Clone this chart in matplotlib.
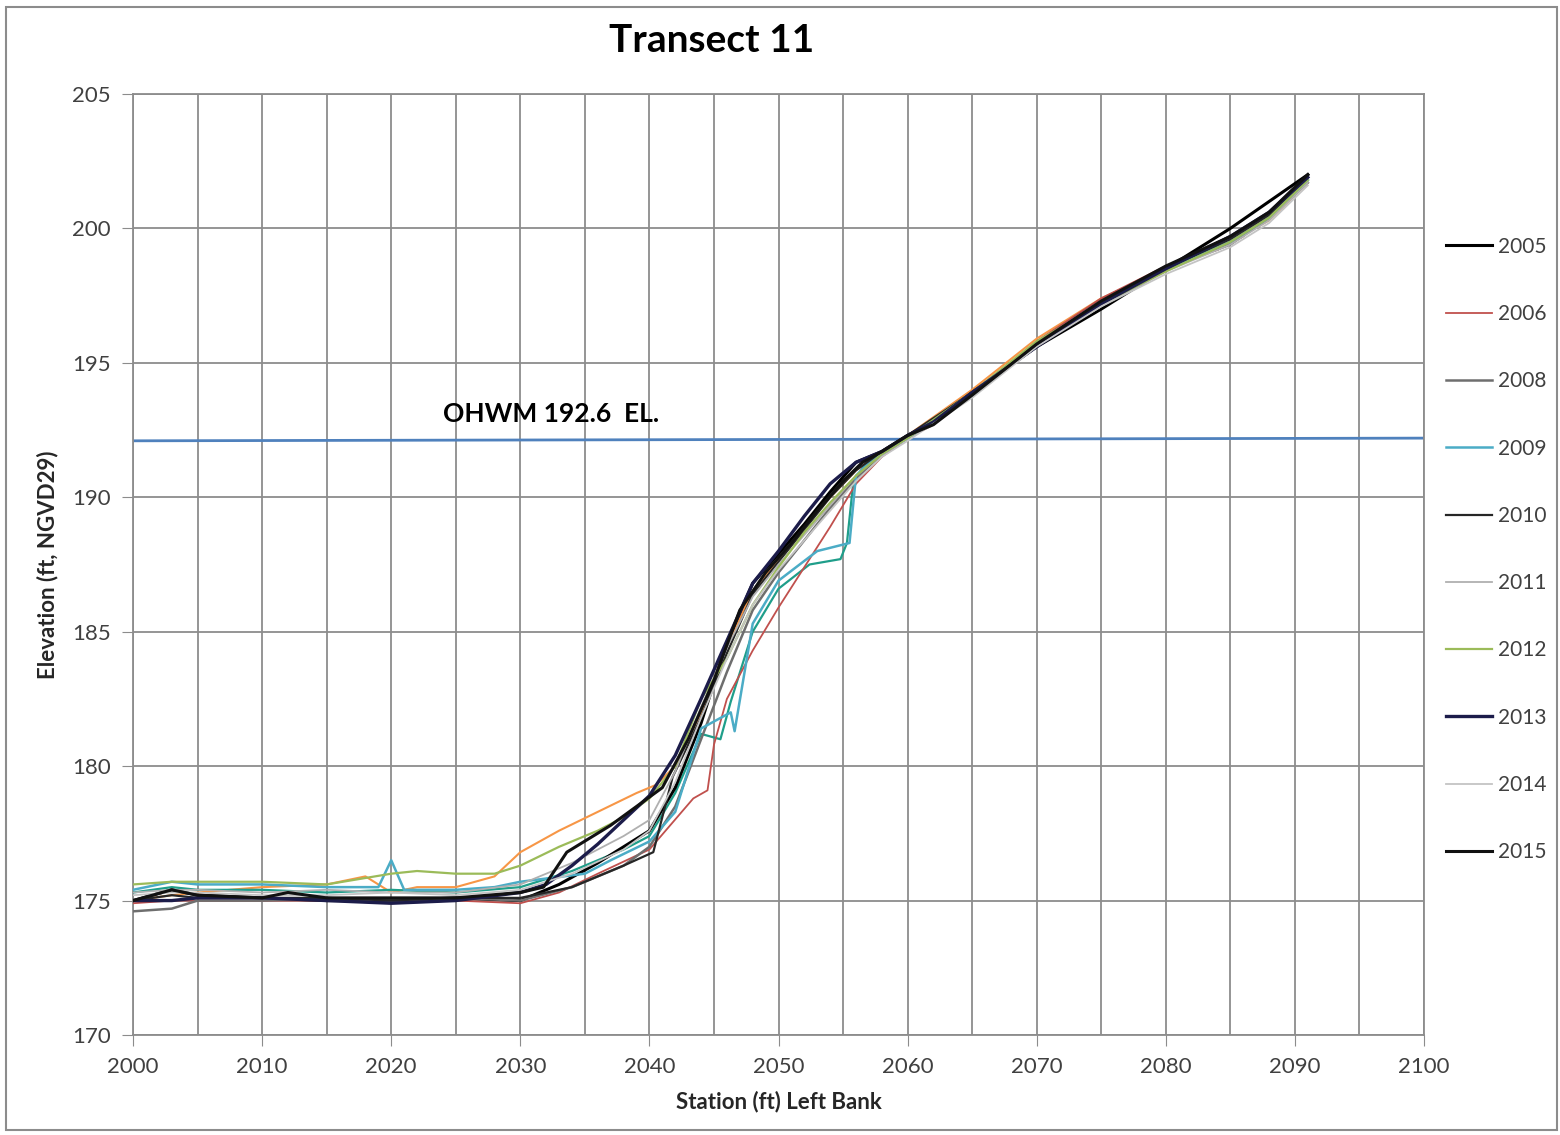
import matplotlib.pyplot as plt
from matplotlib.patches import Rectangle

plt.rcParams['font.family'] = ['Lato', 'DejaVu Sans']

# station (ft) and elevation for each survey year
st_2005 = [2000, 2003, 2005, 2010, 2015, 2020, 2025, 2030, 2033, 2036, 2040, 2042, 2044, 2046, 2048, 2050, 2052, 2054, 2056, 2058, 2060, 2062, 2065, 2070, 2075, 2080, 2085, 2088, 2091]
el_2005 = [175.0, 175.4, 175.2, 175.1, 175.0, 175.0, 175.1, 175.0, 175.6, 176.4, 177.6, 179.2, 181.6, 184.6, 186.8, 187.9, 189.0, 190.2, 191.3, 191.7, 192.3, 192.8, 193.9, 195.6, 197.0, 198.5, 200.0, 201.0, 202.0]

st_2006 = [2000, 2003, 2005, 2010, 2015, 2020, 2025, 2030, 2033, 2036, 2040, 2043.4, 2044.5, 2045, 2046, 2048, 2050, 2052, 2054, 2056, 2058, 2060, 2062, 2065, 2070, 2075, 2080, 2084, 2086, 2088, 2091]
el_2006 = [174.9, 175.0, 175.0, 175.0, 175.0, 174.9, 175.0, 174.9, 175.3, 176.0, 176.9, 178.8, 179.1, 180.8, 182.5, 184.3, 185.9, 187.4, 188.9, 190.5, 191.5, 192.2, 192.7, 193.8, 195.8, 197.4, 198.6, 199.2, 199.7, 200.6, 201.8]

st_2008 = [2000, 2003, 2005, 2010, 2015, 2020, 2025, 2030, 2034, 2038, 2040, 2042, 2044, 2046, 2048, 2050, 2052, 2054, 2056, 2058, 2060, 2065, 2070, 2075, 2080, 2085, 2088, 2091]
el_2008 = [174.6, 174.7, 175.0, 175.0, 175.1, 175.0, 175.1, 175.0, 175.5, 176.3, 177.0, 178.5, 181.0, 183.5, 185.8, 187.2, 188.4, 189.6, 190.7, 191.6, 192.2, 193.8, 195.7, 197.2, 198.5, 199.4, 200.4, 201.7]

st_2009 = [2000, 2003, 2005, 2010, 2015, 2019, 2020, 2021, 2025, 2028, 2030, 2035, 2037, 2040, 2042, 2044, 2046.3, 2046.6, 2048, 2050, 2053, 2055.5, 2056, 2057, 2060, 2065, 2070, 2075, 2080, 2085, 2088, 2091]
el_2009 = [175.4, 175.7, 175.6, 175.6, 175.5, 175.5, 176.5, 175.4, 175.4, 175.5, 175.7, 176.0, 176.5, 177.2, 178.3, 181.4, 182.0, 181.3, 185.3, 186.9, 188.0, 188.3, 190.8, 191.3, 192.2, 193.8, 195.7, 197.2, 198.5, 199.5, 200.4, 201.8]

st_2010 = [2000, 2003, 2005, 2010, 2015, 2020, 2025, 2030, 2034, 2038, 2040.3, 2041.8, 2044, 2046, 2048, 2050, 2052, 2054, 2056, 2058, 2060, 2065, 2070, 2075, 2080, 2085, 2088, 2091]
el_2010 = [175.0, 175.2, 175.1, 175.1, 175.1, 175.0, 175.1, 175.1, 175.5, 176.3, 176.8, 179.6, 181.8, 184.2, 186.4, 187.6, 188.8, 190.0, 191.0, 191.7, 192.3, 193.9, 195.7, 197.2, 198.5, 199.6, 200.5, 201.9]

st_2011 = [2000, 2003, 2005, 2010, 2015, 2020, 2025, 2030, 2034, 2038, 2040, 2042, 2044, 2046, 2048, 2050, 2052, 2054, 2056, 2058, 2060, 2065, 2070, 2075, 2080, 2085, 2088, 2091]
el_2011 = [175.3, 175.4, 175.4, 175.3, 175.4, 175.3, 175.3, 175.6, 176.4, 177.4, 178.0, 179.8, 182.2, 184.4, 186.3, 187.5, 188.6, 189.7, 190.8, 191.6, 192.2, 193.8, 195.7, 197.1, 198.4, 199.4, 200.3, 201.7]

st_2012 = [2000, 2003, 2005, 2010, 2015, 2020, 2022, 2025, 2028, 2030, 2033, 2036, 2038, 2040, 2042, 2044, 2046, 2048, 2050, 2052, 2054, 2056, 2058, 2060, 2065, 2070, 2075, 2080, 2085, 2088, 2091]
el_2012 = [175.6, 175.7, 175.7, 175.7, 175.6, 176.0, 176.1, 176.0, 176.0, 176.3, 177.0, 177.6, 178.1, 178.8, 180.0, 182.5, 184.0, 186.0, 187.4, 188.7, 189.8, 190.8, 191.6, 192.2, 193.9, 195.8, 197.2, 198.4, 199.5, 200.4, 201.8]

st_2013 = [2000, 2003, 2005, 2010, 2015, 2020, 2025, 2030, 2032, 2034, 2036, 2038, 2040, 2042, 2044, 2046.5, 2048, 2050, 2052, 2054, 2056, 2058, 2060, 2062, 2065, 2070, 2075, 2080, 2085, 2088, 2091]
el_2013 = [175.0, 175.0, 175.1, 175.1, 175.0, 174.9, 175.0, 175.3, 175.6, 176.3, 177.1, 178.0, 178.9, 180.4, 182.5, 185.2, 186.8, 188.0, 189.3, 190.5, 191.3, 191.7, 192.3, 192.8, 193.9, 195.6, 197.2, 198.5, 199.7, 200.6, 201.9]

st_2014 = [2000, 2003, 2005, 2010, 2015, 2020, 2025, 2030, 2034, 2038, 2040, 2042, 2044, 2046, 2048, 2050, 2052, 2054, 2056, 2058, 2060, 2065, 2070, 2075, 2080, 2085, 2088, 2091]
el_2014 = [175.2, 175.3, 175.3, 175.2, 175.2, 175.3, 175.2, 175.4, 176.0, 176.9, 177.6, 179.4, 181.8, 184.0, 186.0, 187.3, 188.4, 189.5, 190.6, 191.5, 192.1, 193.7, 195.6, 197.1, 198.3, 199.3, 200.2, 201.6]

st_2015 = [2000, 2003, 2005, 2010, 2012, 2015, 2020, 2025, 2030, 2031.8, 2033.6, 2037, 2041, 2043, 2045, 2047, 2049, 2051, 2053, 2055, 2056.5, 2058, 2060, 2062, 2065, 2070, 2075, 2080, 2085, 2088, 2091]
el_2015 = [175.0, 175.4, 175.2, 175.1, 175.3, 175.1, 175.1, 175.1, 175.3, 175.5, 176.8, 177.8, 179.2, 181.0, 183.2, 185.8, 187.2, 188.3, 189.5, 190.6, 191.3, 191.7, 192.3, 192.7, 193.8, 195.7, 197.3, 198.6, 199.7, 200.6, 202.0]

# two extra traces drawn without legend entries
st_orange = [2000, 2003, 2005, 2010, 2015, 2018, 2020, 2022, 2025, 2028, 2030, 2033, 2036, 2039, 2040.5, 2042, 2044, 2046, 2048, 2050, 2052, 2054, 2056, 2058, 2060, 2065, 2070, 2075, 2080, 2085, 2088, 2091]
el_orange = [175.0, 175.2, 175.3, 175.5, 175.6, 175.9, 175.3, 175.5, 175.5, 175.9, 176.8, 177.6, 178.3, 179.0, 179.3, 180.0, 182.0, 184.5, 186.5, 187.7, 188.9, 190.0, 191.0, 191.7, 192.3, 194.0, 195.9, 197.4, 198.5, 199.5, 200.3, 201.7]

st_teal = [2000, 2003, 2005, 2010, 2015, 2020, 2025, 2030, 2034, 2038, 2040, 2042, 2044, 2045.5, 2046.3, 2048, 2050, 2052.4, 2054.8, 2055.3, 2055.8, 2057, 2060, 2065, 2070, 2075, 2080, 2085, 2088, 2091]
el_teal = [175.3, 175.5, 175.4, 175.4, 175.3, 175.4, 175.3, 175.5, 176.1, 176.9, 177.4, 179.0, 181.2, 181.0, 182.4, 185.0, 186.6, 187.5, 187.7, 188.3, 190.6, 191.4, 192.2, 193.8, 195.7, 197.2, 198.5, 199.5, 200.4, 201.8]

ohwm_x = [2000, 2100]
ohwm_y = [192.1, 192.2]

series = [
    ('2005', st_2005, el_2005, '#000000', 2.2),
    ('2006', st_2006, el_2006, '#c0504d', 1.3),
    ('2008', st_2008, el_2008, '#6e6e6e', 1.8),
    ('2009', st_2009, el_2009, '#4bacc6', 1.8),
    ('2010', st_2010, el_2010, '#262626', 1.6),
    ('2011', st_2011, el_2011, '#b0b0b0', 1.3),
    ('2012', st_2012, el_2012, '#9bbb59', 1.6),
    ('2013', st_2013, el_2013, '#1c1c4a', 2.4),
    ('2014', st_2014, el_2014, '#c4c4c4', 1.3),
    ('2015', st_2015, el_2015, '#111111', 2.2),
]

fig = plt.figure(figsize=(15.6, 11.35), dpi=100)
ax = fig.add_axes([0.0853, 0.0881, 0.8275, 0.8291])

ax.plot(ohwm_x, ohwm_y, color='#4f81bd', lw=2.0, zorder=2)
ax.plot(st_orange, el_orange, color='#f79646', lw=1.5, zorder=3, label='_nolegend_')
ax.plot(st_teal, el_teal, color='#1f9e8a', lw=1.6, zorder=3, label='_nolegend_')
for name, xs, ys, c, lw in series:
    ax.plot(xs, ys, color=c, lw=lw, label=name, zorder=4)

ax.set_xlim(2000, 2100)
ax.set_ylim(170, 205)
ax.set_xticks(range(2000, 2101, 10))
ax.set_xticks(range(2005, 2100, 10), minor=True)
ax.set_yticks(range(170, 206, 5))
ax.grid(True, which='both', color='#8c8c8c', lw=1.3)
ax.set_axisbelow(True)
ax.tick_params(axis='x', which='major', direction='out', length=8, color='#8c8c8c',
               labelsize=16, labelcolor='#404040', pad=8)
ax.tick_params(axis='x', which='minor', length=0)
ax.tick_params(axis='y', direction='out', length=8, color='#8c8c8c',
               labelsize=16, labelcolor='#404040', pad=8)
for s in ax.spines.values():
    s.set_color('#8c8c8c')
    s.set_linewidth(1.3)

ax.set_xlabel('Station (ft) Left Bank', fontsize=16, fontweight='bold', color='#262626', labelpad=10)
ax.set_ylabel('Elevation (ft, NGVD29)', fontsize=16, fontweight='bold', color='#262626', labelpad=10)
fig.text(0.456, 0.964, 'Transect 11', ha='center', va='center', fontsize=28, fontweight='bold')
ax.text(2024.0, 193.1, 'OHWM 192.6  EL.', fontsize=19, fontweight='bold', va='center')

fig.legend(loc='upper left', bbox_to_anchor=(0.915, 0.808), frameon=False, fontsize=15,
           handlelength=2.2, labelspacing=2.27, handletextpad=0.3, labelcolor='#404040')

fig.add_artist(Rectangle((0.004, 0.004), 0.994, 0.99, transform=fig.transFigure,
                         fill=False, edgecolor='#8c8c8c', lw=1.5))

fig.savefig('out.png', dpi=100)
